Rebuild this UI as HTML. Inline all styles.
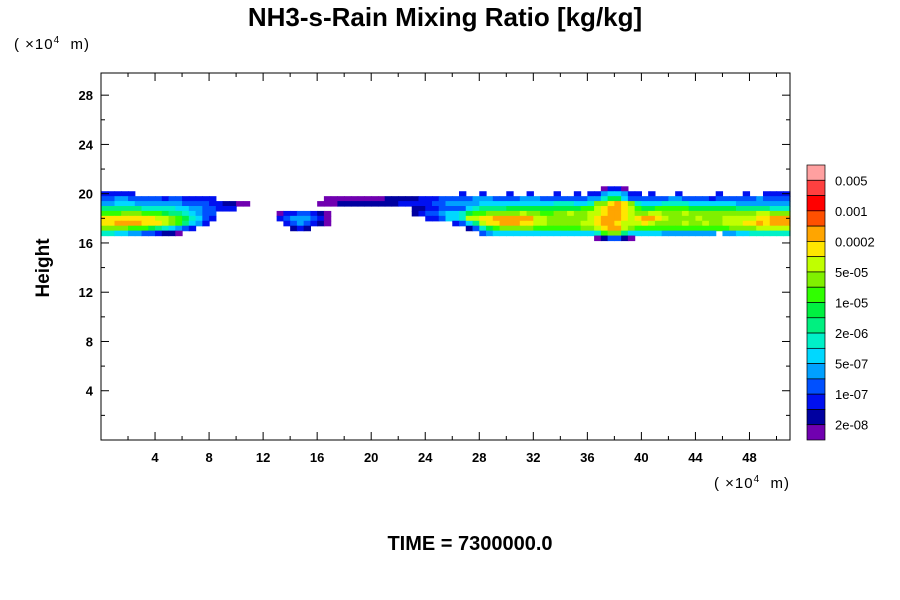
<!DOCTYPE html>
<html><head><meta charset="utf-8"><style>
body{margin:0;background:#fff;}
svg{display:block;font-family:"Liberation Sans",sans-serif;}
</style></head><body>
<svg id="chart" width="900" height="600" xmlns="http://www.w3.org/2000/svg">
<rect width="900" height="600" fill="#fff"/>
<text x="445" y="26" font-size="26" font-weight="bold" text-anchor="middle">NH3-s-Rain Mixing Ratio [kg/kg]</text>
<text x="14" y="49" font-size="15" xml:space="preserve" letter-spacing="1">( ×10<tspan font-size="10" dy="-6">4</tspan><tspan dy="6">  m)</tspan></text>
<text x="714" y="488" font-size="15" xml:space="preserve" letter-spacing="1">( ×10<tspan font-size="10" dy="-6">4</tspan><tspan dy="6">  m)</tspan></text>
<text transform="translate(49,268) rotate(-90)" font-size="19" font-weight="bold" text-anchor="middle">Height</text>
<text x="470" y="550" font-size="20" font-weight="bold" text-anchor="middle">TIME = 7300000.0</text>
<g id="cells"></g>
<g id="axes"></g>
<g id="colorbar"></g>
</svg>
<script>
const levelColors=["#7000b0","#0000a0","#0010f0","#0050ff","#00a0ff","#00d8ff","#00f0c8","#00f080","#00f040","#30ff00","#80f000","#c0ff00","#ffe600","#ffa500","#ff5000","#ff0000","#ff4040","#ffa0a0"];
const levelChars="0123456789abcdefgh";
const cbLabels=["0.005","0.001","0.0002","5e-05","1e-05","2e-06","5e-07","1e-07","2e-08"];
const xTicks=[4,8,12,16,20,24,28,32,36,40,44,48];
const yTicks=[4,8,12,16,20,24,28];
const rowTops=[20.6,20.2,19.8,19.4,19.0,18.6,18.2,17.8,17.4,17.0,16.6];
const rowHeight=0.4;
const colWidth=0.5;
const rows=[
".......... .......... .......... .......... .......... .......... .......... ....0220.. .......... .......... ..",
"22222..... .......... .......... .......... .......... ...2..2... 2..2...2.. 2.22455422 .2...2.... .2...2..22 22",
"3344333332 3322222... .......... ...0000000 0011111222 3333344433 3344433333 3344688533 3333443333 2333333433 33",
"4455544444 4433332211 00........ ..00011111 1111222223 3444445555 5555555666 556aacdca6 5556666555 5555444444 44",
"7777776666 6554433222 .......... .......... ......1122 3333567777 8888888888 899bcddcb9 8899999888 8888777776 66",
"999aaa9998 7765433... ......0223 3210...... ......1233 4556899aaa aabaa99aab aabbcddcba abbaaabaaa aaaaaaabba aa",
"ccccccccbb a986532... ......2344 4320...... ........22 3556bbccdd ddddbbaaaa aabcdddcbc ddcbaaaaba aabbbbbccd dd",
"ccddddcccb a97542.... .......234 3210...... .......... ..2357bccd ddccbbaaaa abbcddcbbb cbaaaabaab aabbbccdcd dd",
"aaaa999876 5432...... ........12 1......... .......... ....13689a aaaa999999 9aabcddba9 9999999999 999aaaabbb bb",
"6655443321 10........ .......... .......... .......... ......3455 5555555555 55569aa755 5554444444 4.44556666 66",
".......... .......... .......... .......... .......... .......... .......... ...013310. .......... .......... .."
];
const NS="http://www.w3.org/2000/svg";
const PX0=101,PX1=790,PY0=440,PY1=73,XMAX=51,YMAX=29.8;
function sx(v){return PX0+v*(PX1-PX0)/XMAX;}
function sy(v){return PY0-v*(PY0-PY1)/YMAX;}
function mk(tag,attrs,parent){const e=document.createElementNS(NS,tag);for(const k in attrs)e.setAttribute(k,attrs[k]);parent.appendChild(e);return e;}
const cells=document.getElementById('cells');
rows.forEach((r,ri)=>{
  const s=r.replace(/ /g,'');
  for(let ci=0;ci<s.length;ci++){
    const ch=s[ci]; if(ch==='.')continue;
    const lv=levelChars.indexOf(ch);
    const x0=sx(ci*colWidth),x1=sx(Math.min((ci+1)*colWidth,XMAX));
    const y0=sy(rowTops[ri]),y1=sy(rowTops[ri]-rowHeight);
    const c=mk('rect',{x:x0.toFixed(2),y:y0.toFixed(2),width:(x1-x0+0.6).toFixed(2),height:(y1-y0+0.6).toFixed(2),fill:levelColors[lv]},cells);
    
    
  }
});
const axes=document.getElementById('axes');
const frame=mk('rect',{x:PX0,y:PY1,width:PX1-PX0,height:PY0-PY1,fill:'none',stroke:'#000','stroke-width':1},axes);


for(let v=2;v<XMAX;v+=2){
  const x=sx(v),L=(v%4===0)?8:4;
  mk('line',{x1:x,x2:x,y1:PY0,y2:PY0-L,stroke:'#000'},axes);
  mk('line',{x1:x,x2:x,y1:PY1,y2:PY1+L,stroke:'#000'},axes);
}
for(let v=2;v<YMAX;v+=2){
  const y=sy(v),L=(v%4===0)?8:4;
  mk('line',{x1:PX0,x2:PX0+L,y1:y,y2:y,stroke:'#000'},axes);
  mk('line',{x1:PX1,x2:PX1-L,y1:y,y2:y,stroke:'#000'},axes);
}
xTicks.forEach(v=>{
  const t=mk('text',{x:sx(v),y:PY0+22,'font-size':13,'font-weight':'bold','text-anchor':'middle'},axes);
  t.textContent=v;
  
  
});
yTicks.forEach(v=>{
  const t=mk('text',{x:PX0-8,y:sy(v)+5,'font-size':13,'font-weight':'bold','text-anchor':'end'},axes);
  t.textContent=v;
  
  
});
const cb=document.getElementById('colorbar');
const CBX=807,CBW=18,CBT=165,CBB=440,BH=(CBB-CBT)/levelColors.length;
for(let i=0;i<levelColors.length;i++){
  const lv=levelColors.length-1-i;
  const r=mk('rect',{x:CBX,y:CBT+i*BH,width:CBW,height:BH,fill:levelColors[lv],stroke:'#000','stroke-width':0.7},cb);
  
  
}
cbLabels.forEach((l,i)=>{
  const t=mk('text',{x:835,y:CBT+(2*i+1)*BH+5,'font-size':13},cb);
  t.textContent=l;
  
  
});
</script>
</body></html>
